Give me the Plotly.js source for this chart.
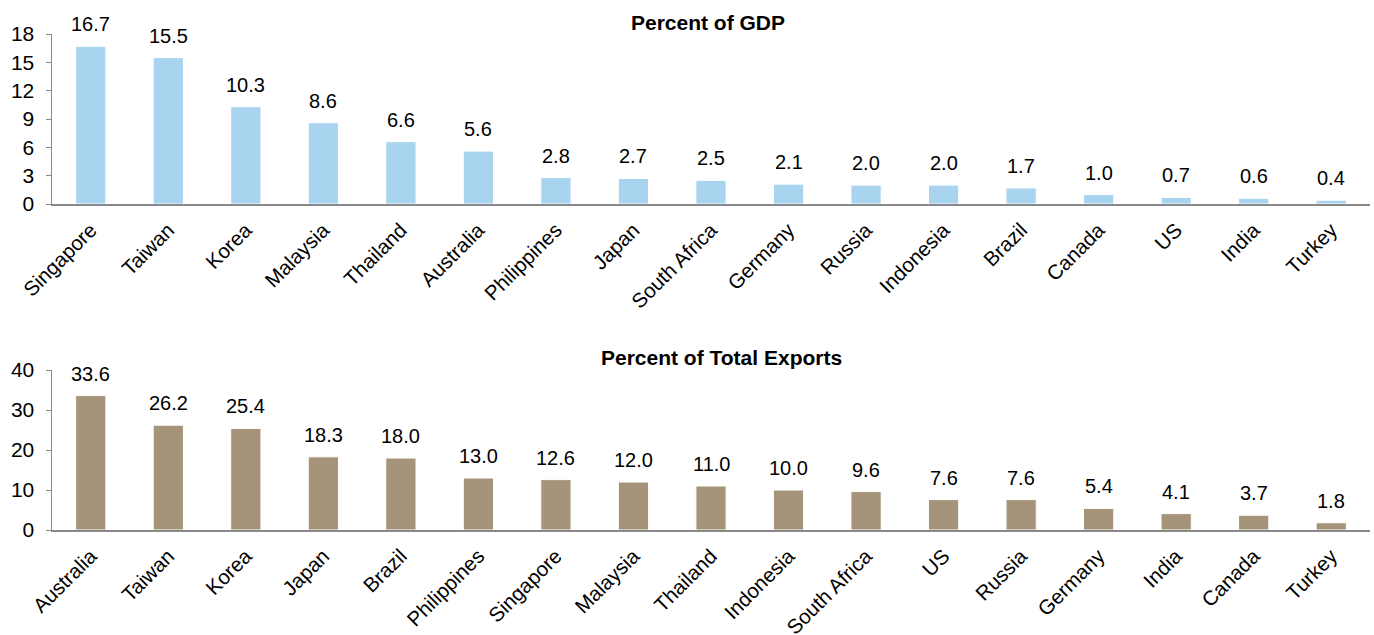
<!DOCTYPE html>
<html>
<head>
<meta charset="utf-8">
<script src="https://cdn.plot.ly/plotly-3.0.1.min.js"></script>
<style>html,body{margin:0;padding:0;background:#fff;}#chart{width:1374px;height:635px;}</style>
</head>
<body>
<div id="chart"></div>
<script>
const gdpCountries = ["Singapore","Taiwan","Korea","Malaysia","Thailand","Australia","Philippines","Japan","South Africa","Germany","Russia","Indonesia","Brazil","Canada","US","India","Turkey"];
const gdpValues = [16.7,15.5,10.3,8.6,6.6,5.6,2.8,2.7,2.5,2.1,2.0,2.0,1.7,1.0,0.7,0.6,0.4];
const expCountries = ["Australia","Taiwan","Korea","Japan","Brazil","Philippines","Singapore","Malaysia","Thailand","Indonesia","South Africa","US","Russia","Germany","India","Canada","Turkey"];
const expValues = [33.6,26.2,25.4,18.3,18.0,13.0,12.6,12.0,11.0,10.0,9.6,7.6,7.6,5.4,4.1,3.7,1.8];
const titleTop = "Percent of GDP";
const titleBottom = "Percent of Total Exports";

const font = {family: "Liberation Sans, Arial, sans-serif", color: "#000"};
const traces = [
  {type:"bar", x:gdpCountries, y:gdpValues, xaxis:"x", yaxis:"y",
   marker:{color:"#A9D4F0", line:{color:"#fff", width:1}}, hoverinfo:"none"},
  {type:"bar", x:expCountries, y:expValues, xaxis:"x2", yaxis:"y2",
   marker:{color:"#A59479", line:{color:"#fff", width:1}}, hoverinfo:"none"}
];
const annotations = [];
gdpCountries.forEach((c,i)=>annotations.push({x:c, y:gdpValues[i], xref:"x", yref:"y", text:gdpValues[i].toFixed(1), showarrow:false, yanchor:"bottom", yshift:9, font:{...font, size:20}}));
expCountries.forEach((c,i)=>annotations.push({x:c, y:expValues[i], xref:"x2", yref:"y2", text:expValues[i].toFixed(1), showarrow:false, yanchor:"bottom", yshift:9, font:{...font, size:20}}));
annotations.push({x:707.5/1374, y:1-22/635, xref:"paper", yref:"paper", xanchor:"center", yanchor:"middle", text:"<b>"+titleTop+"</b>", showarrow:false, font:{...font, size:21}});
annotations.push({x:721/1374, y:1-357/635, xref:"paper", yref:"paper", xanchor:"center", yanchor:"middle", text:"<b>"+titleBottom+"</b>", showarrow:false, font:{...font, size:21}});

const xcommon = {showline:true, linecolor:"#898989", linewidth:2, ticks:"", tickangle:-45, tickfont:{...font, size:20.5}, ticklabelstandoff:4, showgrid:false, zeroline:false, domain:[52/1374, 1370/1374], fixedrange:true};
const ycommon = {showline:true, linecolor:"#898989", linewidth:1.5, ticks:"outside", ticklen:5, tickcolor:"#898989", tickfont:{...font, size:21}, ticklabelstandoff:7, showgrid:false, zeroline:false, fixedrange:true};

const layout = {
  width:1374, height:635, margin:{l:0,r:0,t:0,b:0},
  paper_bgcolor:"#fff", plot_bgcolor:"#fff", showlegend:false,
  bargap:0.61, font:font,
  xaxis:{...xcommon, anchor:"y"},
  yaxis:{...ycommon, range:[0,18], dtick:3, domain:[1-204/635, 1-34/635], anchor:"x"},
  xaxis2:{...xcommon, anchor:"y2"},
  yaxis2:{...ycommon, range:[0,40], dtick:10, domain:[1-530/635, 1-370/635], anchor:"x2"},
  annotations:annotations
};
Plotly.newPlot("chart", traces, layout, {staticPlot:true});
</script>
</body>
</html>
